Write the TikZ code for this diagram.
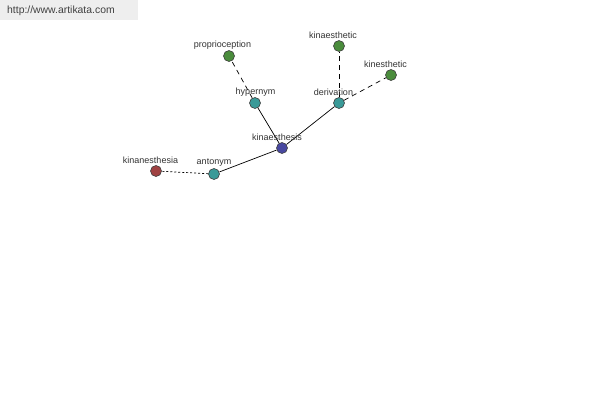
\documentclass[tikz,border=0pt]{standalone}
\usepackage{fontspec}
\setmainfont{Liberation Sans}
\begin{document}
\begin{tikzpicture}[x=1pt,y=-1pt,
  dot/.style={circle,draw=black!75,line width=0.6pt,minimum size=11pt,inner sep=0pt},
  teal/.style={dot,fill=tealc},
  green/.style={dot,fill=greenc},
  blue/.style={dot,fill=bluec},
  red/.style={dot,fill=redc},
  lbl/.style={inner sep=0pt,font=\fontsize{9}{10}\selectfont,text=txtc},
  edge/.style={black,line width=0.7pt},
  dashedge/.style={edge,dash pattern=on 5pt off 4pt},
  dotedge/.style={edge,dash pattern=on 2pt off 2pt}]
\definecolor{tealc}{HTML}{3A9A98}
\definecolor{greenc}{HTML}{4A8C3C}
\definecolor{bluec}{HTML}{4848A0}
\definecolor{redc}{HTML}{A04242}
\definecolor{txtc}{HTML}{333333}
\definecolor{hdr}{HTML}{EEEEEE}
\useasboundingbox (0,0) rectangle (600,400);
\fill[white] (0,0) rectangle (600,400);
\fill[hdr] (0,0) rectangle (138,20);
\node[anchor=west,inner sep=0pt,font=\fontsize{10.4}{12}\selectfont,text=black!75] (url) at (7,11) {http://www.artikata.com};
% nodes
\node[blue] (kis) at (282,148) {};
\node[teal] (hyp) at (255,103) {};
\node[teal] (der) at (339,103) {};
\node[teal] (ant) at (214,174) {};
\node[green] (pro) at (229,56) {};
\node[green] (kae) at (339,46) {};
\node[green] (kin) at (391,75) {};
\node[red] (kan) at (156,171) {};
% edges
\draw[edge] (kis) -- (hyp);
\draw[edge] (kis) -- (der);
\draw[edge] (kis) -- (ant);
\draw[dashedge] (hyp) -- (pro);
\draw[dashedge] (der) -- (kae);
\draw[dashedge] (der) -- (kin);
\draw[dotedge] (ant) -- (kan);
% labels
\node[lbl] (lkis) at (277,137) {kinaesthesis};
\node[lbl] (lhyp) at (255.5,92) {hypernym};
\node[lbl] (lder) at (333.5,92) {derivation};
\node[lbl] (lant) at (214,163) {antonym};
\node[lbl] (lpro) at (222.5,45) {proprioception};
\node[lbl] (lkae) at (333,35) {kinaesthetic};
\node[lbl] (lkin) at (385.5,64) {kinesthetic};
\node[lbl] (lkan) at (150.5,160) {kinanesthesia};
\end{tikzpicture}
\end{document}
